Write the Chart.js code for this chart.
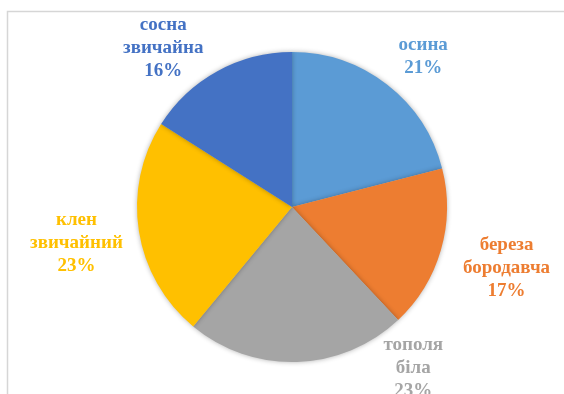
<!DOCTYPE html>
<html>
<head>
<meta charset="utf-8">
<script src="https://cdn.jsdelivr.net/npm/chart.js@4"></script>
<style>
  html, body { margin: 0; padding: 0; background: #fff; }
  #wrap { width: 564px; height: 394px; position: relative; }
</style>
</head>
<body>
<div id="wrap"><canvas id="myChart" width="564" height="394"></canvas></div>
<script>
// tree species and their share, percent
const species = [["осина"], ["береза", "бородавча"], ["тополя", "біла"], ["клен", "звичайний"], ["сосна", "звичайна"]];
const shares = [21, 17, 23, 23, 16];
const colors = ["#5B9BD5", "#ED7D31", "#A5A5A5", "#FFC000", "#4472C4"];

// where each label sits: angle (deg from top, clockwise) and distance in radii
const labelPlace = [
  { angle: 41, dist: 1.29 },
  { angle: 106, dist: 1.44 },
  { angle: 143, dist: 1.30 },
  { angle: 260.5, dist: 1.41 },
  { angle: 321, dist: 1.32 },
];

const frame = {
  id: "frame",
  beforeDraw(chart) {
    const ctx = chart.ctx;
    ctx.save();
    ctx.fillStyle = "#fff";
    ctx.fillRect(0, 0, chart.width, chart.height);
    ctx.strokeStyle = "#d6d6d6";
    ctx.lineWidth = 1.5;
    ctx.strokeRect(7.5, 11.5, chart.width + 20, chart.height + 20);
    ctx.restore();
  },
};

const shadow = {
  id: "shadow",
  beforeDatasetDraw(chart) {
    const ctx = chart.ctx;
    ctx.save();
    ctx.shadowColor = "rgba(0,0,0,0.3)";
    ctx.shadowBlur = 5;
  },
  afterDatasetDraw(chart) {
    chart.ctx.restore();
  },
};

const labels = {
  id: "sliceLabels",
  afterDatasetsDraw(chart) {
    const ctx = chart.ctx;
    const arcs = chart.getDatasetMeta(0).data;
    ctx.save();
    ctx.font = "bold 19px 'Liberation Serif', 'Times New Roman', serif";
    ctx.textAlign = "center";
    ctx.textBaseline = "middle";
    arcs.forEach((arc, i) => {
      const p = labelPlace[i];
      const a = (p.angle - 90) * Math.PI / 180;
      const x = arc.x + Math.cos(a) * arc.outerRadius * p.dist;
      const y = arc.y + Math.sin(a) * arc.outerRadius * p.dist;
      const lines = [...species[i], shares[i] + "%"];
      const lh = 23;
      ctx.fillStyle = colors[i];
      lines.forEach((t, k) => {
        ctx.fillText(t, x, y + (k - (lines.length - 1) / 2) * lh);
      });
    });
    ctx.restore();
  },
};

const chartCtx = document.getElementById("myChart").getContext("2d");
window.chart = new Chart(chartCtx, {
  type: "pie",
  data: {
    labels: species.map((s) => s.join(" ")),
    datasets: [
      {
        data: shares,
        backgroundColor: colors,
        borderWidth: 0,
      },
    ],
  },
  options: {
    responsive: false,
    animation: false,
    layout: { padding: { left: 137, right: 117, top: 52, bottom: 32 } },
    plugins: {
      legend: { display: false },
      tooltip: { enabled: false },
    },
  },
  plugins: [frame, shadow, labels],
});
</script>
</body>
</html>
